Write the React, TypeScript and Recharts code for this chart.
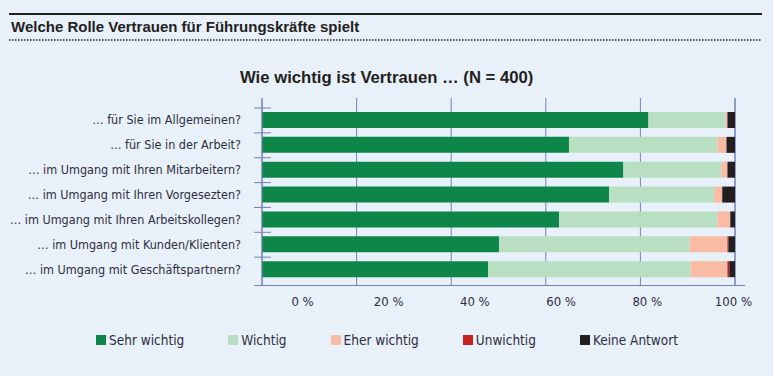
import { Bar, BarChart, CartesianGrid, XAxis, YAxis } from "recharts";

const categories = [
  "… für Sie im Allgemeinen?",
  "… für Sie in der Arbeit?",
  "… im Umgang mit Ihren Mitarbeitern?",
  "… im Umgang mit Ihren Vorgesezten?",
  "… im Umgang mit Ihren Arbeitskollegen?",
  "… im Umgang mit Kunden/Klienten?",
  "… im Umgang mit Geschäftspartnern?",
];

const sehrWichtig = [81.7, 64.9, 76.4, 73.4, 62.8, 50.1, 47.8];
const wichtig = [16.3, 31.4, 20.7, 22.2, 33.5, 40.3, 42.8];
const eherWichtig = [0.4, 1.9, 1.3, 1.7, 2.7, 8.0, 7.8];
const unwichtig = [0, 0, 0, 0, 0, 0.2, 0.4];
const keineAntwort = [1.6, 1.8, 1.6, 2.7, 1.0, 1.4, 1.2];

const xTicks = [0, 20, 40, 60, 80, 100];

const SERIES = [
  { key: "sehr", name: "Sehr wichtig", color: "#0e8649", values: sehrWichtig },
  { key: "wichtig", name: "Wichtig", color: "#b9dfc3", values: wichtig },
  { key: "eher", name: "Eher wichtig", color: "#f9bba3", values: eherWichtig },
  { key: "unw", name: "Unwichtig", color: "#c8201f", values: unwichtig },
  { key: "keine", name: "Keine Antwort", color: "#231f20", values: keineAntwort },
];

const chartData = categories.map((cat, i) => {
  const row: Record<string, string | number> = { cat };
  SERIES.forEach((s) => (row[s.key] = s.values[i]));
  return row;
});

const AXIS = "#7382b5";
const TEXT = "#2e2e3e";
const NARROW = "'Liberation Sans Narrow', 'DejaVu Sans Condensed', 'Liberation Sans', sans-serif";
const BOLD = "'Liberation Sans', Arial, sans-serif";
const BAND = 174 / 7;

function CatTick(props: any) {
  const { x, y, payload } = props;
  const top = y - BAND / 2;
  return (
    <g>
      <text x={x} y={y} dy={4} textAnchor="end" fontSize={12.5} fill={TEXT} fontFamily={NARROW}>
        {payload.value}
      </text>
      <line x1={x + 13} x2={x + 30} y1={top} y2={top} stroke={AXIS} />
    </g>
  );
}

function PctTick(props: any) {
  const { x, y, payload } = props;
  // labels in the original sit a bit right of their gridlines
  const lx = 303 + (x - 262.5) * 0.911;
  return (
    <text x={lx} y={y} dy={13} textAnchor="middle" fontSize={13} fill={TEXT} fontFamily={NARROW}>
      {`${payload.value} %`}
    </text>
  );
}

export default function App() {
  return (
    <div style={{ position: "absolute", left: 0, top: 0, width: 775, height: 376, background: "#fff" }}>
      <div style={{ position: "absolute", left: 0, top: 0, width: 773, height: 376, background: "#e8f0f9" }} />
      <div style={{ position: "absolute", left: 9, top: 13, width: 753, height: 2, background: "#231f20" }} />
      <div
        style={{
          position: "absolute",
          left: 11,
          top: 18,
          fontFamily: BOLD,
          fontWeight: "bold",
          fontSize: 15,
          color: "#231f20",
          whiteSpace: "nowrap",
        }}
      >
        Welche Rolle Vertrauen für Führungskräfte spielt
      </div>
      <svg style={{ position: "absolute", left: 0, top: 0 }} width={775} height={376}>
        <line x1={9} x2={762} y1={40} y2={40} stroke="#231f20" strokeWidth={1.5} strokeDasharray="1.5 1.5" />
      </svg>
      <div
        style={{
          position: "absolute",
          left: 240,
          top: 68,
          fontFamily: BOLD,
          fontWeight: "bold",
          fontSize: 16.7,
          color: "#231f20",
          whiteSpace: "nowrap",
        }}
      >
        Wie wichtig ist Vertrauen … (N = 400)
      </div>
      <div style={{ position: "absolute", left: 0, top: 0 }}>
        <BarChart
          width={775}
          height={376}
          data={chartData}
          layout="vertical"
          margin={{ top: 98, right: 40, left: 0, bottom: 61 }}
        >
          <CartesianGrid horizontal={false} stroke={AXIS} />
          <XAxis
            type="number"
            domain={[0, 100]}
            ticks={xTicks}
            axisLine={false}
            tickLine={false}
            height={30}
            tick={<PctTick />}
          />
          <YAxis
            type="category"
            dataKey="cat"
            width={262}
            padding={{ top: 10, bottom: 3 }}
            axisLine={{ stroke: AXIS }}
            tickLine={false}
            tickSize={0}
            tickMargin={21}
            tick={<CatTick />}
            interval={0}
          />
          {SERIES.map((s) => (
            <Bar
              key={s.key}
              dataKey={s.key}
              name={s.name}
              stackId="a"
              fill={s.color}
              barSize={16}
              isAnimationActive={false}
            />
          ))}
        </BarChart>
      </div>
      <div style={{ position: "absolute", left: 254, top: 285, width: 491, height: 1, background: AXIS }} />
      <div
        style={{
          position: "absolute",
          left: 96,
          top: 332,
          display: "flex",
          alignItems: "center",
          fontFamily: NARROW,
          fontSize: 13.5,
          color: TEXT,
          whiteSpace: "nowrap",
        }}
      >
        {SERIES.map((s) => (
          <div key={s.key} style={{ display: "flex", alignItems: "center", marginRight: 44 }}>
            <span style={{ width: 10, height: 10, background: s.color, marginRight: 3 }} />
            <span>{s.name}</span>
          </div>
        ))}
      </div>
    </div>
  );
}
